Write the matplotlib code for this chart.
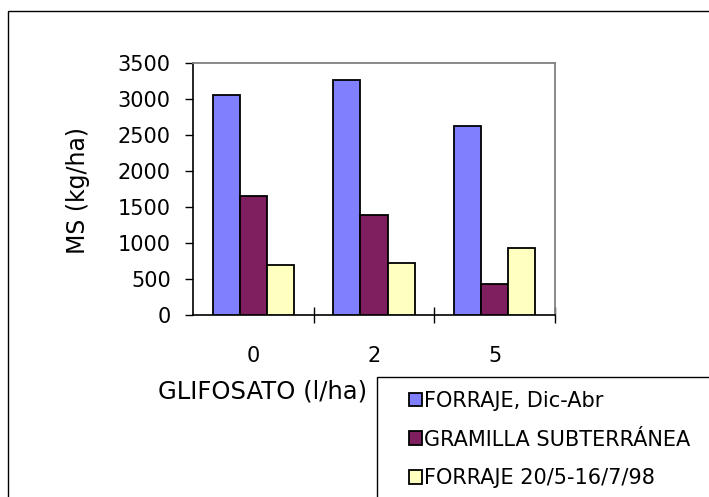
import numpy as np
import matplotlib
matplotlib.use("Agg")
import matplotlib.pyplot as plt
from matplotlib.patches import Rectangle

plt.rcParams['font.family'] = ['DejaVu Sans']

# datos: materia seca por dosis de glifosato
dosis        = ["0", "2", "5"]
forraje_dic  = [3050, 3270, 2630]
gramilla     = [1650, 1385, 435]
forraje_jul  = [690, 720, 935]
series_names = ["FORRAJE, Dic-Abr", "GRAMILLA SUBTERRÁNEA", "FORRAJE 20/5-16/7/98"]
colores      = ["#8080FF", "#7F1F5F", "#FFFFC0"]

W, H = 709, 497
fig = plt.figure(figsize=(W/100, H/100), dpi=100)

# marco exterior del grafico
fig.patches.append(Rectangle((8/W, -0.1), 1.2, 1.1 - 11/H, transform=fig.transFigure,
                             fill=False, ec="black", lw=1.0))

ax = fig.add_axes([193/W, (H-315)/H, (555-193)/W, (315-63)/H])

x = np.arange(len(dosis))
bw = 0.224
bars = []
for i, (vals, col) in enumerate(zip([forraje_dic, gramilla, forraje_jul], colores)):
    b = ax.bar(x + (i-1)*bw, vals, bw, color=col, edgecolor="black", linewidth=1.3, zorder=3)
    bars.append(b)

ax.set_xlim(-0.5, 2.5)
ax.set_ylim(0, 3500)
ax.set_yticks(np.arange(0, 3501, 500))

# marcas entre grupos, etiquetas en el centro
ax.set_xticks([0.5, 1.5, 2.5])
ax.set_xticklabels([])
ax.set_xticks(x, minor=True)
ax.set_xticklabels(dosis, minor=True)
ax.tick_params(axis="x", which="major", direction="inout", length=12, width=1)
ax.tick_params(axis="x", which="minor", length=0, pad=22, labelsize=15)
ax.tick_params(axis="y", direction="out", length=6, width=1, pad=10, labelsize=15)

for s in ["top", "right"]:
    ax.spines[s].set_color("#808080")
    ax.spines[s].set_linewidth(1.3)
for s in ["left", "bottom"]:
    ax.spines[s].set_color("black")
    ax.spines[s].set_linewidth(1.2)

ax.set_ylabel("MS (kg/ha)", fontsize=17)
ax.yaxis.set_label_coords((90-193)/362, (315-191)/252)

fig.text(158/W, 1 - 391/H, "GLIFOSATO (l/ha)", fontsize=17.5, va="center", ha="left")

# caja de la leyenda
fig.patches.append(Rectangle((377/W, -0.1), 1.2, 0.1 + 1 - 377/H, transform=fig.transFigure,
                             fill=False, ec="black", lw=1.0))
fig.legend([b[0] for b in bars], series_names, loc="upper left",
           bbox_to_anchor=(409/W, 1 - 391/H), frameon=False, fontsize=15,
           handlelength=0.62, handleheight=0.62, handletextpad=0.12,
           labelspacing=0.89, borderpad=0, borderaxespad=0)

fig.savefig("out.png", dpi=100)
